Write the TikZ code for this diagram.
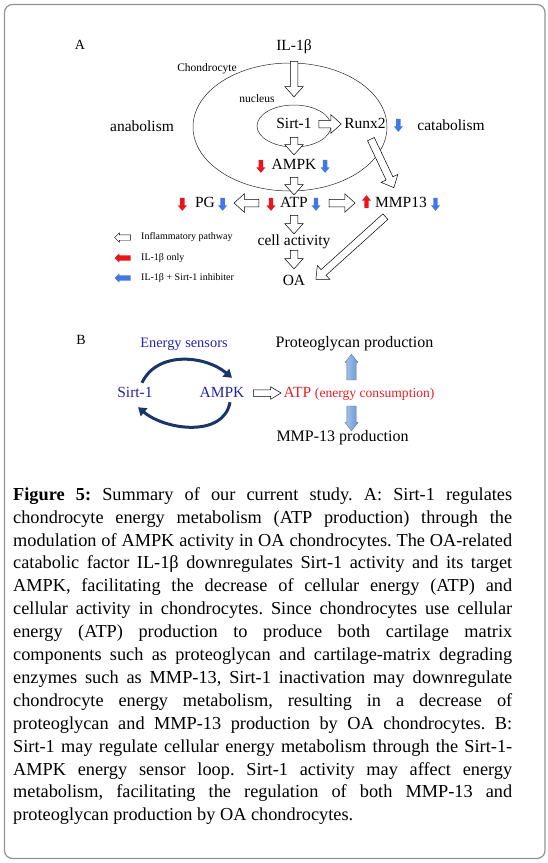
\documentclass[tikz,border=0pt]{standalone}
\usepackage{fontspec}
\setmainfont{Liberation Serif}
\usetikzlibrary{calc,positioning,shapes.arrows,shapes.geometric,arrows.meta}

\definecolor{ilred}{RGB}{232,22,26}
\definecolor{inhblue}{RGB}{66,120,226}
\definecolor{loopnavy}{RGB}{24,54,104}
\definecolor{sensorblue}{RGB}{36,36,168}
\definecolor{atpred}{RGB}{230,32,40}
\definecolor{prodblue}{RGB}{102,150,214}

% block arrow from #2 to #3 (style #1)
\newcommand{\flowarrow}[3][inflow]{%
  \path let \p1=($#3-#2$), \n1={atan2(\y1,\x1)}, \n2={veclen(\x1,\y1)} in
    node[#1, rotate=\n1, minimum height=\n2] at ($#2!0.5!#3$) {};}

\begin{document}
\begin{tikzpicture}[x=1pt, y=1pt,
    lbl/.style={inner sep=1pt, text height=11pt, text depth=3pt, font=\fontsize{15.5}{18}\selectfont},
    note/.style={inner sep=1pt, font=\fontsize{11.5}{13}\selectfont},
    legtext/.style={inner sep=1pt, anchor=west, font=\fontsize{10}{12}\selectfont},
    inflow/.style={single arrow, draw=black, fill=white, line width=0.5pt, inner xsep=0pt, inner ysep=3.5pt,
                   single arrow head extend=5.5pt, single arrow tip angle=84},
    smallflow/.style={inflow, inner ysep=3pt, single arrow head extend=3pt, single arrow tip angle=62},
    prodflow/.style={single arrow, draw=prodblue!70!black, line width=0.3pt, left color=prodblue!55!white,
                     right color=prodblue, inner xsep=0pt, inner ysep=4.5pt, single arrow head extend=2pt,
                     single arrow tip angle=78},
    markarrow/.style={single arrow, draw=none, inner xsep=0pt, inner ysep=2pt, single arrow head extend=2.3pt,
                      single arrow tip angle=80, minimum height=13pt},
    legarrow/.style={single arrow, line width=0.4pt, inner xsep=0pt, inner ysep=2.5pt, single arrow head extend=2pt,
                     single arrow tip angle=90, minimum height=16pt, rotate=180},
    sensloop/.style={draw=loopnavy, line width=3pt, -{Triangle[length=8pt,width=10pt]}},
  ]

    \useasboundingbox (0,0) rectangle (548,-863);
    \draw[gray!85, line width=1.2pt, rounded corners=8pt] (4.5,-4.5) rectangle (545,-858.5);

    % ---------- A: cell and nucleus ----------
    \node[font=\fontsize{14}{16}\selectfont] (labA) at (80,-45) {A};
    \node[lbl] (il) at (294,-46) {IL-1β};
    \node[draw=black!85, line width=0.5pt, ellipse, inner sep=0pt, minimum width=194, minimum height=128] (cellbody) at (290,-127) {};
    \node[draw=black!85, line width=0.5pt, ellipse, inner sep=0pt, minimum width=74, minimum height=42] (nucleus) at (294,-126) {};
    \node[note] (chondro) at (207,-69) {Chondrocyte};
    \node[note] (nuclbl) at (257,-99) {nucleus};

    \node[lbl] (anab) at (142,-127) {anabolism};
    \node[lbl] (catab) at (451,-126) {catabolism};
    \node[lbl] (sirt) at (294,-124) {Sirt-1};
    \node[lbl] (runx) at (365,-124) {Runx2};
    \node[lbl] (ampk) at (294,-165) {AMPK};
    \node[lbl] (pg) at (205,-203) {PG};
    \node[lbl] (atp) at (294,-203) {ATP};
    \node[lbl] (mmp) at (401,-203) {MMP13};
    \node[lbl] (cell) at (294,-241) {cell activity};
    \node[lbl] (oa) at (294,-281) {OA};

    % ---------- A: pathway arrows ----------
    \flowarrow{([yshift=-5pt]il.south)}{([yshift=10pt]nucleus.north)}
    \flowarrow{([xshift=4pt]sirt.east)}{([xshift=-4pt]runx.west)}
    \flowarrow{([yshift=-3pt]sirt.south)}{([yshift=4pt]ampk.north)}
    \flowarrow{([shift={(5pt,-5pt)}]runx.south)}{([shift={(-8pt,9pt)}]mmp.north)}
    \flowarrow{([yshift=-2pt]ampk.south)}{([yshift=2pt]atp.north)}
    \flowarrow{([xshift=-18pt]atp.west)}{([xshift=20pt]pg.east)}
    \flowarrow{([xshift=18pt]atp.east)}{([xshift=-21pt]mmp.west)}
    \flowarrow{([yshift=-2pt]atp.south)}{([yshift=1pt]cell.north)}
    \flowarrow{([yshift=1pt]cell.south)}{([yshift=6pt]oa.north)}
    \flowarrow{([shift={(-14pt,-4pt)}]mmp.south)}{([shift={(11pt,3pt)}]oa.east)}

    % red = IL-1b only, blue = IL-1b + Sirt-1 inhibiter
    \node[markarrow, fill=ilred, rotate=-90] (rAMPK) at ([xshift=-9.5pt]ampk.west) {};
    \node[markarrow, fill=inhblue, rotate=-90] (bAMPK) at ([xshift=7.5pt]ampk.east) {};
    \node[markarrow, fill=inhblue, rotate=-90] (bRUNX) at ([xshift=11.5pt]runx.east) {};
    \node[markarrow, fill=ilred, rotate=-90] (rPG) at ([xshift=-11.5pt]pg.west) {};
    \node[markarrow, fill=inhblue, rotate=-90] (bPG) at ([xshift=6.5pt]pg.east) {};
    \node[markarrow, fill=ilred, rotate=-90] (rATP) at ([xshift=-8pt]atp.west) {};
    \node[markarrow, fill=inhblue, rotate=-90] (bATP) at ([xshift=7pt]atp.east) {};
    \node[markarrow, fill=ilred, rotate=90] (rMMP) at ([xshift=-7.5pt]mmp.west) {};
    \node[markarrow, fill=inhblue, rotate=-90] (bMMP) at ([xshift=7.5pt]mmp.east) {};

    % ---------- A: legend ----------
    \foreach \i/\y/\fc/\dc/\lbl in {
        1/237.5/white/black/{Inflammatory pathway},
        2/258/ilred/none/{IL-1β only},
        3/278/inhblue/none/{IL-1β + Sirt-1 inhibiter}
    }{
        \node[legtext] (leg\i) at (140,-\y) {\lbl};
        \node[legarrow, fill=\fc, draw=\dc] (legarr\i) at ([xshift=-16pt]leg\i.west) {};
    }

    % ---------- B: energy sensor loop ----------
    \node[font=\fontsize{14}{16}\selectfont] (labB) at (81,-340) {B};
    \node[inner sep=1pt, text=sensorblue, font=\fontsize{14.4}{17}\selectfont] (sensors) at (184,-344) {Energy sensors};
    \node[lbl, text=sensorblue] (sirtB) at (135,-393) {Sirt-1};
    \node[lbl, text=sensorblue] (ampkB) at (222,-393) {AMPK};
    \node[lbl, text=atpred] (atpB) at (359,-393) {ATP {\fontsize{13.6}{16}\selectfont (energy consumption)}};
    \node[lbl, font=\fontsize{16}{18}\selectfont] (pgB) at (354.5,-343) {Proteoglycan production};
    \node[lbl, font=\fontsize{16}{18}\selectfont] (mmpB) at (342.5,-437) {MMP-13 production};

    \draw[sensloop] ([shift={(7pt,2pt)}]sirtB.north) to[out=65, in=140] ([shift={(10pt,7pt)}]ampkB.north);
    \draw[sensloop] ([shift={(8pt,-1pt)}]ampkB.south) to[out=-100, in=-40] ([shift={(3pt,-6pt)}]sirtB.south);

    \flowarrow[smallflow]{([xshift=5pt]ampkB.east)}{([xshift=-4pt]atpB.west)}
    \flowarrow[prodflow]{([shift={(-7.5pt,2pt)}]atpB.north)}{([shift={(-3pt,-6pt)}]pgB.south)}
    \flowarrow[prodflow]{([shift={(-7.5pt,-2pt)}]atpB.south)}{([shift={(9pt,1pt)}]mmpB.north)}

    % ---------- caption ----------
    \node[anchor=north west, inner sep=0pt, text width=499pt, align=justify,
          font=\fontsize{18.3}{22.9}\selectfont] (caption) at (13,-484)
    {\frenchspacing\strut\textbf{Figure 5:} Summary of our current study. A: Sirt-1 regulates\linebreak
     chondrocyte energy metabolism (ATP production) through the\linebreak
     modulation of AMPK activity in OA chondrocytes. The OA-related\linebreak
     catabolic factor IL-1β downregulates Sirt-1 activity and its target\linebreak
     AMPK, facilitating the decrease of cellular energy (ATP) and\linebreak
     cellular activity in chondrocytes. Since chondrocytes use cellular\linebreak
     energy (ATP) production to produce both cartilage matrix\linebreak
     components such as proteoglycan and cartilage-matrix degrading\linebreak
     enzymes such as MMP-13, Sirt-1 inactivation may downregulate\linebreak
     chondrocyte energy metabolism, resulting in a decrease of\linebreak
     proteoglycan and MMP-13 production by OA chondrocytes. B:\linebreak
     Sirt-1 may regulate cellular energy metabolism through the Sirt-1-\linebreak
     AMPK energy sensor loop. Sirt-1 activity may affect energy\linebreak
     metabolism, facilitating the regulation of both MMP-13 and\linebreak
     proteoglycan production by OA chondrocytes.};

\end{tikzpicture}
\end{document}
